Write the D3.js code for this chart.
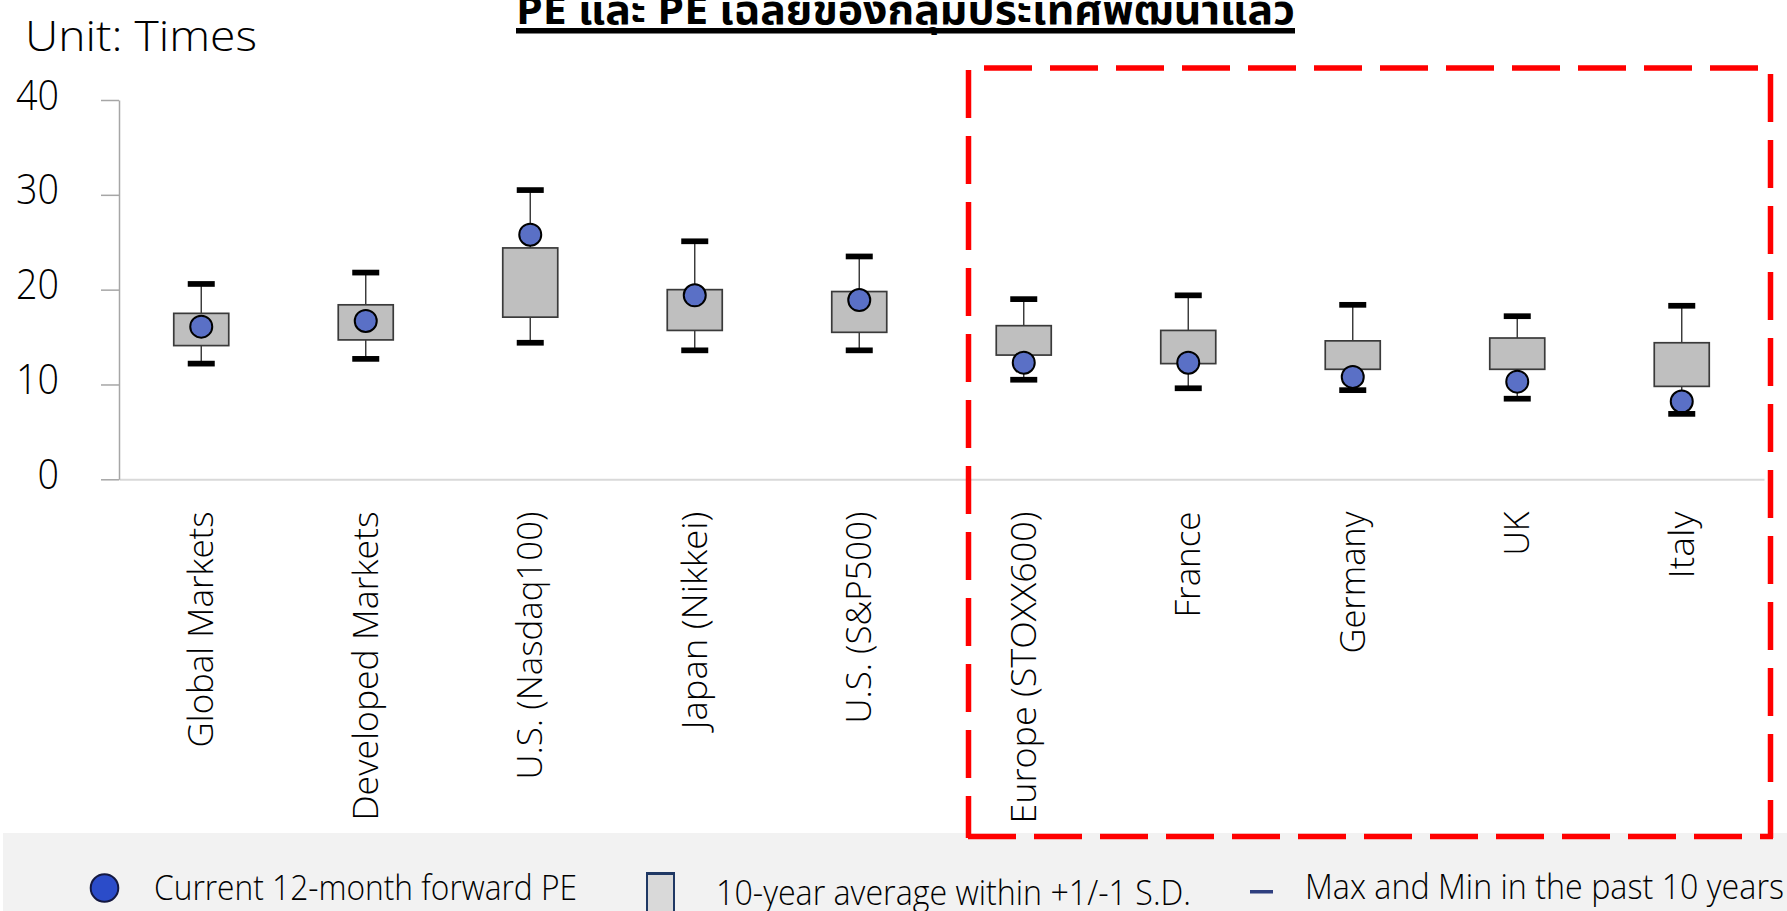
<!DOCTYPE html>
<html>
<head>
<meta charset="utf-8">
<script src="https://cdn.jsdelivr.net/npm/d3@7"></script>
<style>
  html, body { margin: 0; padding: 0; background: #ffffff; }
  svg { display: block; }
  text { font-family: "Open Sans", "Liberation Sans", "DejaVu Sans", sans-serif; font-weight: 300; fill: #000; }
</style>
</head>
<body>
<svg id="chart" width="1787" height="911"></svg>
<script>
// ---------------- data ----------------
const categories = ["Global Markets", "Developed Markets", "U.S. (Nasdaq100)", "Japan (Nikkei)", "U.S. (S&P500)",
                    "Europe (STOXX600)", "France", "Germany", "UK", "Italy"];
const maxPE     = [20.6, 21.8, 30.5, 25.1, 23.5, 19.0, 19.4, 18.4, 17.2, 18.3];
const upperSD   = [17.5, 18.4, 24.4, 20.0, 19.8, 16.2, 15.7, 14.6, 14.9, 14.4];
const lowerSD   = [14.1, 14.7, 17.1, 15.7, 15.5, 13.1, 12.2, 11.6, 11.6, 9.8];
const minPE     = [12.2, 12.7, 14.4, 13.6, 13.6, 10.5, 9.6, 9.4, 8.5, 6.9];
const currentPE = [16.1, 16.7, 25.8, 19.4, 18.9, 12.3, 12.3, 10.8, 10.3, 8.2];
const yTicks = [0, 10, 20, 30, 40];
const titleText = "PE และ PE เฉลี่ยของกลุ่มประเทศพัฒนาแล้ว";
const unitText = "Unit: Times";
const legendLabels = ["Current 12-month forward PE", "10-year average within +1/-1 S.D.", "Max and Min in the past 10 years"];

// ---------------- layout (sizes only) ----------------
const xLabelLen = {"Global Markets":236, "Developed Markets":309, "U.S. (Nasdaq100)":268, "Japan (Nikkei)":218,
  "U.S. (S&P500)":212, "Europe (STOXX600)":312, "France":106, "Germany":142, "UK":44, "Italy":67};

const rows = categories.map((c, i) => ({
  cat: c, max: maxPE[i], hi: upperSD[i], lo: lowerSD[i], min: minPE[i], cur: currentPE[i]
}));

const svg = d3.select("#chart");

const x = d3.scaleBand().domain(categories).range([119, 1764]).paddingInner(0).paddingOuter(0);
const y = d3.scaleLinear().domain([0, 40]).range([479.3, 100]);

// legend background
svg.append("rect").attr("x", 3).attr("y", 833).attr("width", 1784).attr("height", 78).attr("fill", "#f2f2f2");

// title (clipped at top)
svg.append("text")
  .attr("x", 516).attr("y", 23.5)
  .attr("font-size", 40)
  .attr("textLength", 779).attr("lengthAdjust", "spacingAndGlyphs")
  .style("font-family", "'Noto Sans Thai', 'Noto Sans Thai UI', 'Loma', 'Garuda', 'Tlwg Typo', 'Noto Sans', 'DejaVu Sans', sans-serif")
  .style("font-weight", "bold")
  .text(titleText);
svg.append("rect").attr("x", 516).attr("y", 28).attr("width", 779).attr("height", 5.5).attr("fill", "#000");

// unit label
svg.append("text")
  .attr("x", 25).attr("y", 50.7)
  .attr("font-size", 42)
  .attr("textLength", 232).attr("lengthAdjust", "spacingAndGlyphs")
  .text(unitText);

// x axis
const gx = svg.append("g").attr("transform", `translate(0,${y(0)})`)
  .call(d3.axisBottom(x).tickSize(0).tickFormat(""));
gx.select(".domain").attr("stroke", "#d9d9d9").attr("stroke-width", 2);
gx.selectAll(".tick text").remove();

// y axis
const gy = svg.append("g").attr("transform", `translate(${x.range()[0]},0)`)
  .call(d3.axisLeft(y).tickValues(yTicks).tickSize(18).tickSizeOuter(0).tickPadding(42));
gy.select(".domain").attr("stroke", "#a6a6a6").attr("stroke-width", 1.5);
gy.selectAll(".tick line").attr("stroke", "#a6a6a6").attr("stroke-width", 1.5);
gy.selectAll(".tick text")
  .attr("font-size", 42).attr("dy", 9).attr("fill", "#000")
  .attr("textLength", d => String(d).length * 21.5).attr("lengthAdjust", "spacingAndGlyphs")
  .style("font-family", "'Open Sans', sans-serif").style("font-weight", 300);

// category labels (rotated)
svg.append("g").selectAll("text").data(categories).join("text")
  .attr("transform", d => `translate(${x(d) + x.bandwidth() / 2 + 12},511.5) rotate(-90)`)
  .attr("text-anchor", "end")
  .attr("font-size", 35)
  .attr("textLength", d => xLabelLen[d]).attr("lengthAdjust", "spacingAndGlyphs")
  .text(d => d);

// boxes
const boxW = 55, capW = 27, capH = 5.7;
const g = svg.append("g");
const grp = g.selectAll("g.item").data(rows).join("g").attr("class", "item")
  .attr("transform", d => `translate(${x(d.cat) + x.bandwidth() / 2},0)`);

grp.append("line").attr("x1", 0).attr("x2", 0)
  .attr("y1", d => y(d.max)).attr("y2", d => y(d.min))
  .attr("stroke", "#333").attr("stroke-width", 1.4);
grp.append("rect")
  .attr("x", -boxW / 2).attr("width", boxW)
  .attr("y", d => y(d.hi)).attr("height", d => y(d.lo) - y(d.hi))
  .attr("fill", "#bfbfbf").attr("stroke", "#3a3a3a").attr("stroke-width", 1.7);
grp.append("circle")
  .attr("cx", 0).attr("cy", d => y(d.cur)).attr("r", 11)
  .attr("fill", "#5a70c6").attr("stroke", "#000").attr("stroke-width", 2);
grp.append("rect").attr("class", "capmax")
  .attr("x", -capW / 2).attr("width", capW).attr("y", d => y(d.max) - capH / 2).attr("height", capH)
  .attr("fill", "#000");
grp.append("rect").attr("class", "capmin")
  .attr("x", -capW / 2).attr("width", capW).attr("y", d => y(d.min) - capH / 2).attr("height", capH)
  .attr("fill", "#000");

// red dashed frame
const red = svg.append("g").attr("stroke", "#ff0000").attr("stroke-width", 5.5).attr("stroke-dasharray", "48 18").attr("fill", "none");
red.append("line").attr("x1", 968.5).attr("y1", 70).attr("x2", 968.5).attr("y2", 838);
red.append("line").attr("x1", 984).attr("y1", 68).attr("x2", 1770).attr("y2", 68);
red.append("line").attr("x1", 1770.5).attr("y1", 74).attr("x2", 1770.5).attr("y2", 838);
red.append("line").attr("x1", 968).attr("y1", 836.5).attr("x2", 1773).attr("y2", 836.5);

// legend
const lg = svg.append("g");
lg.append("circle").attr("cx", 104.5).attr("cy", 888).attr("r", 13.8)
  .attr("fill", "#2b4cc9").attr("stroke", "#141840").attr("stroke-width", 2);
lg.append("text").attr("x", 154).attr("y", 899.5).attr("font-size", 35)
  .attr("textLength", 423).attr("lengthAdjust", "spacingAndGlyphs").text(legendLabels[0]);
lg.append("rect").attr("x", 647).attr("y", 873).attr("width", 27).attr("height", 45)
  .attr("fill", "#d9d9d9").attr("stroke", "#1f3864").attr("stroke-width", 2);
lg.append("rect").attr("x", 646).attr("y", 872).attr("width", 29).attr("height", 3).attr("fill", "#1f3864");
lg.append("text").attr("x", 716).attr("y", 905).attr("font-size", 35)
  .attr("textLength", 475).attr("lengthAdjust", "spacingAndGlyphs").text(legendLabels[1]);
lg.append("rect").attr("x", 1250).attr("y", 890).attr("width", 23).attr("height", 3.5).attr("fill", "#2f3f7f");
lg.append("text").attr("x", 1305).attr("y", 898.5).attr("font-size", 35)
  .attr("textLength", 479).attr("lengthAdjust", "spacingAndGlyphs").text(legendLabels[2]);
</script>
</body>
</html>
